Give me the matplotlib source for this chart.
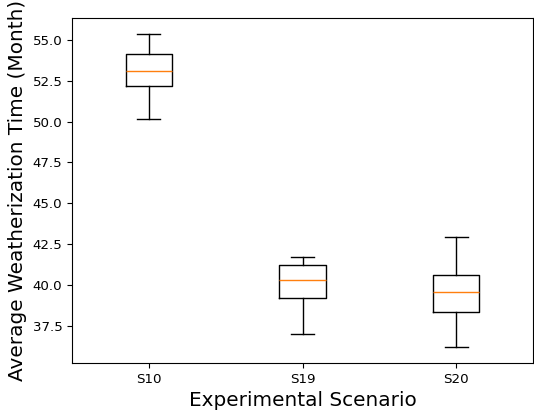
import matplotlib
matplotlib.use("Agg")
import matplotlib.pyplot as plt

# Scenario labels and box summary statistics (months)
scenarios = ["S10", "S19", "S20"]
whisker_low = [50.18, 37.01, 36.17]
q1 = [52.17, 39.17, 38.33]
median = [53.13, 40.29, 39.57]
q3 = [54.12, 41.21, 40.61]
whisker_high = [55.38, 41.72, 42.95]

stats = [
    {"label": name, "whislo": lo, "q1": a, "med": m, "q3": b, "whishi": hi, "fliers": []}
    for name, lo, a, m, b, hi in zip(scenarios, whisker_low, q1, median, q3, whisker_high)
]

fig = plt.figure(figsize=(5.34, 4.12), dpi=100)
ax = fig.add_axes([0.135, 0.119, 0.863, 0.837])
ax.bxp(stats, widths=0.3, showfliers=False)

ax.set_xlabel("Experimental Scenario", fontsize=14.4)
ax.set_ylabel("Average Weatherization Time (Month)", fontsize=14.4)
ax.tick_params(labelsize=9.6)

fig.savefig("out.png", dpi=100)
